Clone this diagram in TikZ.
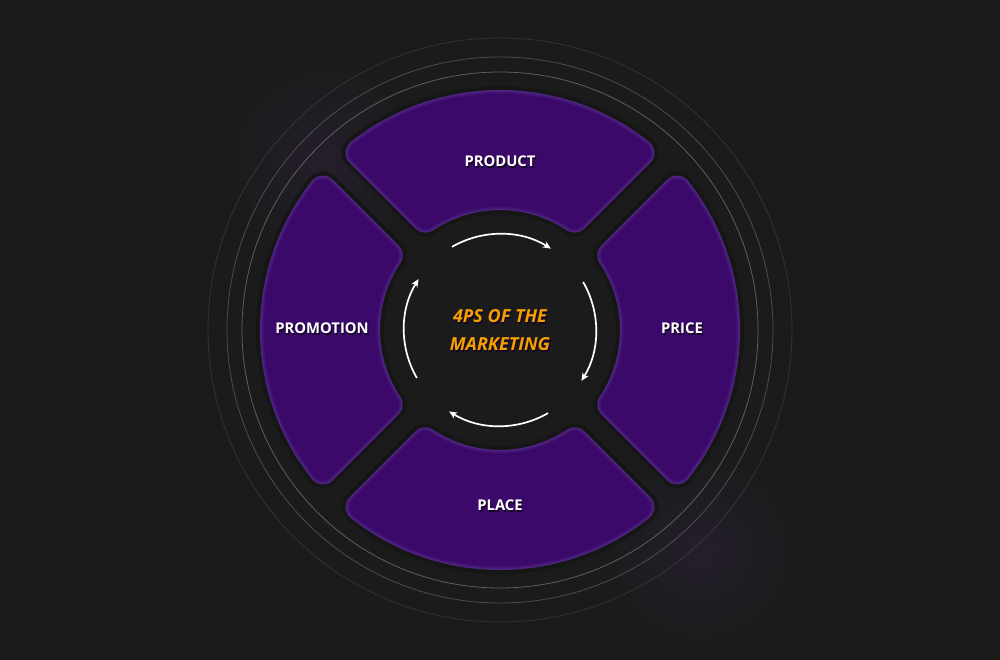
\documentclass[tikz,border=0pt]{standalone}
\usepackage{fontspec}
\setmainfont{Open Sans}
\usetikzlibrary{arrows.meta}
\definecolor{bg}{RGB}{27,27,27}
\definecolor{seg}{RGB}{59,9,105}
\definecolor{segmid}{RGB}{67,21,116}
\definecolor{segedge}{RGB}{78,37,128}
\definecolor{segshadow}{RGB}{22,22,22}
\definecolor{ring}{RGB}{150,150,150}
\definecolor{haze}{RGB}{36,30,43}
\definecolor{gold}{RGB}{245,160,0}
\definecolor{txtshadow}{RGB}{22,6,38}
\newcommand\shtext[1]{\rlap{\kern1.2pt\raisebox{-1.5pt}{\color{txtshadow}#1}}#1}
\newcommand\segshape[1]{(#1-45+\ao:\Ro) arc[start angle=#1-45+\ao, end angle=#1+45-\ao, radius=\Ro]
  -- (#1+45-\ai:\Ri) arc[start angle=#1+45-\ai, end angle=#1-45+\ai, radius=\Ri] -- cycle}

\begin{document}
\begin{tikzpicture}[x=1pt, y=1pt, every node/.style={inner sep=2pt},
  segfill/.style={fill=#1, draw=#1, line join=round},
  lbl/.style={font=\fontsize{14.8}{17}\selectfont\bfseries, text=white},
  title/.style={font=\fontsize{18}{28}\selectfont\bfseries\itshape, text=gold, align=center},
  cycarrow/.style={-{Stealth[length=8pt, width=7pt]}, white, line width=1.7pt}]
\fill[bg] (-500,-330) rectangle (500,330);
\useasboundingbox (-500,-330) rectangle (500,330);
\coordinate (hub) at (0,0);
\pgfmathsetmacro\Ro{226}
\pgfmathsetmacro\Ri{134}
\pgfmathsetmacro\ao{asin(26/\Ro)}
\pgfmathsetmacro\ai{asin(26/\Ri)}
\shade[inner color=haze, outer color=bg] (-175,170) circle (100);
\shade[inner color=haze, outer color=bg] (200,-220) circle (100);
\foreach \r/\o in {258/.55, 273/.4, 292/.2}
  \draw[ring, opacity=\o, line width=.8] (hub) circle (\r);
\foreach \c in {90, 0, 270, 180} {
  \path[segfill=segshadow, line width=36] \segshape{\c};
  \path[segfill=segedge, line width=28] \segshape{\c};
  \path[segfill=segmid, line width=25] \segshape{\c};
  \path[segfill=seg, line width=21] \segshape{\c};
}
\foreach \a in {120, 30, -60, 210}
  \draw[cycarrow] (hub) ++(\a:96) arc[start angle=\a, delta angle=-62, radius=96];
\node[lbl] (product) at (0,168) {\shtext{PRODUCT}};
\node[lbl] (price) at (182,1) {\shtext{PRICE}};
\node[lbl] (place) at (0,-176) {\shtext{PLACE}};
\node[lbl] (promotion) at (-178,1) {\shtext{PROMOTION}};
\node[title] (heading) at (0,-1) {\shtext{4PS OF THE}\\\shtext{MARKETING}};
\end{tikzpicture}
\end{document}
